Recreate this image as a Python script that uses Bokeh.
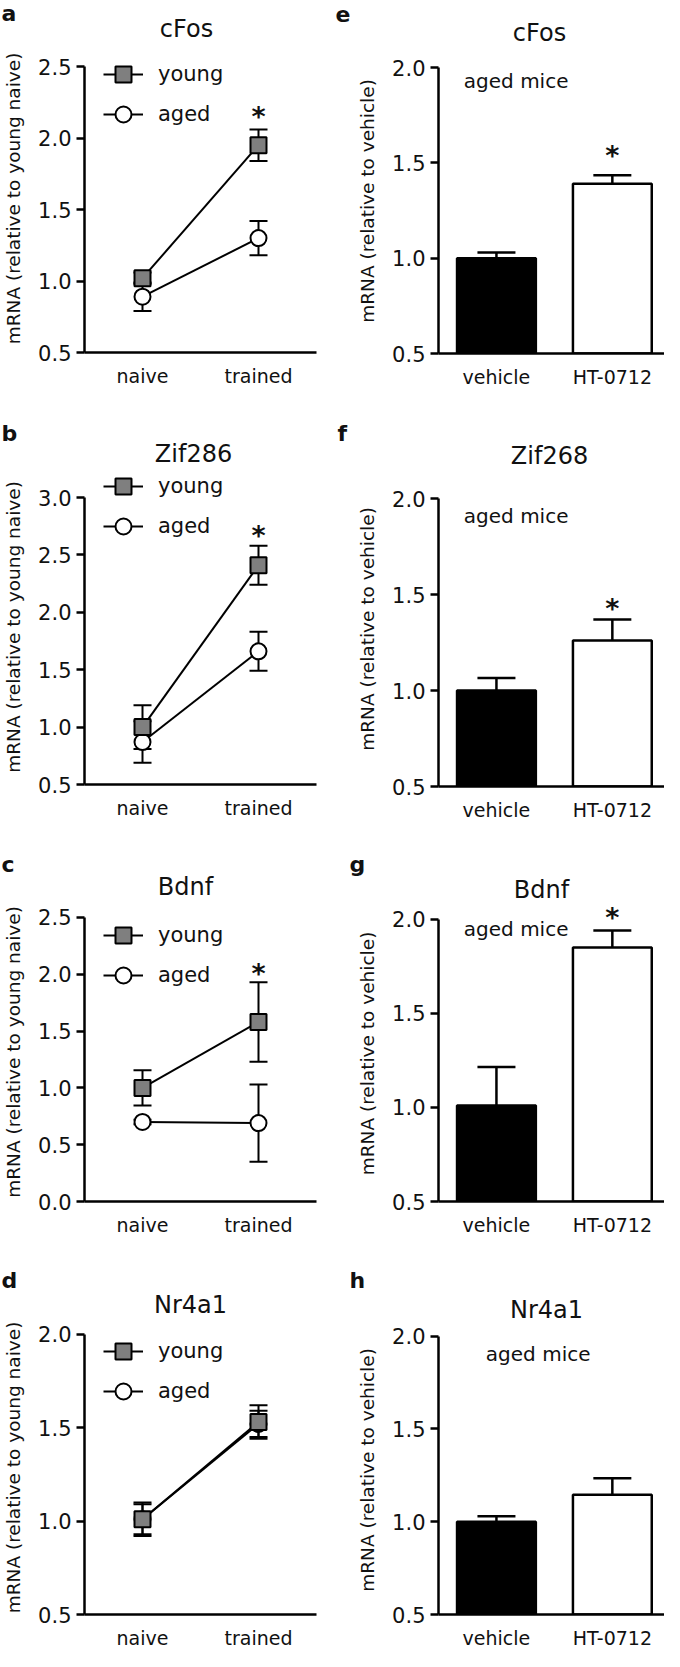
from bokeh.plotting import figure
from bokeh.models import (ColumnDataSource, Whisker, TeeHead, FixedTicker, Range1d,
                          Legend, LegendItem, PrintfTickFormatter)
from bokeh.layouts import column, row
from bokeh.embed import file_html
from bokeh.resources import INLINE
from bokeh.core.properties import value

# ---------------- data ----------------
conditions = ["naive", "trained"]
treatments = ["vehicle", "HT-0712"]
genes_left = ["cFos", "Zif286", "Bdnf", "Nr4a1"]
genes_right = ["cFos", "Zif268", "Bdnf", "Nr4a1"]
letters_left = ["a", "b", "c", "d"]
letters_right = ["e", "f", "g", "h"]

young_mean = [[1.02, 1.95], [1.00, 2.41], [1.00, 1.58], [1.01, 1.53]]
young_sem = [[0.04, 0.11], [0.19, 0.17], [0.155, 0.35], [0.09, 0.09]]
aged_mean = [[0.89, 1.30], [0.87, 1.66], [0.70, 0.69], [1.01, 1.52]]
aged_sem = [[0.10, 0.12], [0.18, 0.17], [0.02, 0.34], [0.08, 0.07]]
left_star = [2.19, 2.72, 2.06, None]
left_yticks = [[0.5, 1.0, 1.5, 2.0, 2.5],
               [0.5, 1.0, 1.5, 2.0, 2.5, 3.0],
               [0.0, 0.5, 1.0, 1.5, 2.0, 2.5],
               [0.5, 1.0, 1.5, 2.0]]

bar_mean = [[1.00, 1.39], [1.00, 1.26], [1.01, 1.85], [1.00, 1.145]]
bar_sem = [[0.03, 0.045], [0.065, 0.11], [0.205, 0.09], [0.03, 0.09]]
right_star = [1.57, 1.46, 2.04, None]
right_yticks = [0.5, 1.0, 1.5, 2.0]

# ---------------- layout / style ----------------
FONT = "DejaVu Sans"
W = 332
ROW_H = [416, 416, 406, 413]
# (frame top, top-tick y, frame bottom) in pixels from the top of the row
L_GEOM = [(44, 66, 352), (53, 81, 368), (70, 85, 370), (82, 96, 382)]
R_GEOM = [(48, 67, 353), (55, 82, 370), (73, 87, 373), (87, 98, 384)]
HEAD_GAP = 2
L_BORDER = (82, 16)
R_BORDER = (106, 0)
L_TITLE = [(186, 28), (193, 37), (185, 54), (190, 66)]
R_TITLE = [(207, 32), (217, 39), (209, 57), (214, 71)]
L_LETTER = [(1, 13), (1, 17), (1, 32), (1, 42)]
R_LETTER = [(3, 13), (5, 17), (17, 32), (17, 42)]
LEGEND_C1 = [81, 77, 111, 126]
AGED_MICE_POS = [(1.17, 1.93), (1.17, 1.91), (1.17, 1.95), (1.36, 1.905)]
SQ_FILL = "#7f7f7f"
LEG_GLYPH = 40
LEG_PITCH = 33


def header_fig(hh, title_pos, letter_pos, title, letter):
    h = figure(width=W, height=hh, x_range=Range1d(0, W), y_range=Range1d(hh, 0),
               x_axis_type=None, y_axis_type=None, output_backend="svg",
               toolbar_location=None, min_border=0, min_border_left=0,
               min_border_right=0, min_border_top=0, min_border_bottom=0,
               frame_align=False)
    h.outline_line_color = None
    h.xgrid.visible = False
    h.ygrid.visible = False
    h.text(x=[title_pos[0]], y=[title_pos[1]], text=[title], text_align="center",
           text_baseline="middle", text_font=value(FONT), text_font_size="24px",
           text_color="#111111")
    h.text(x=[letter_pos[0]], y=[letter_pos[1]], text=[letter], text_align="left",
           text_baseline="middle", text_font=value(FONT), text_font_size="22px",
           text_font_style="bold", text_color="#111111")
    return h


def base_fig(H, geom, border, yticks, xr, ylabel, xlabels):
    F, T, B = geom
    y0, y1 = yticks[0], yticks[-1]
    yend = y1 + (T - F) * (y1 - y0) / (B - T)
    hh = F - HEAD_GAP
    p = figure(width=W, height=H - hh, x_range=Range1d(*xr), y_range=Range1d(y0, yend),
               output_backend="svg", toolbar_location=None, frame_align=False,
               min_border_left=border[0], min_border_right=border[1],
               min_border_top=HEAD_GAP, min_border_bottom=H - B)
    p.xgrid.visible = False
    p.ygrid.visible = False
    p.outline_line_color = None
    yax = p.yaxis[0]
    yax.ticker = FixedTicker(ticks=yticks)
    yax.bounds = (y0, y1)
    yax.formatter = PrintfTickFormatter(format="%.1f")
    yax.minor_tick_line_color = None
    yax.major_tick_out = 8
    yax.major_tick_in = 0
    yax.major_tick_line_width = 2.5
    yax.axis_line_width = 2.5
    yax.major_label_text_font = FONT
    yax.major_label_text_font_size = "21px"
    yax.major_label_text_color = "#111111"
    yax.major_label_standoff = 5
    yax.axis_label = ylabel
    yax.axis_label_text_font = FONT
    yax.axis_label_text_font_size = "18.5px"
    yax.axis_label_text_font_style = "normal"
    yax.axis_label_text_color = "#111111"
    yax.axis_label_standoff = 11
    xax = p.xaxis[0]
    xax.ticker = FixedTicker(ticks=[1, 2])
    xax.major_label_overrides = {1: xlabels[0], 2: xlabels[1]}
    xax.minor_tick_line_color = None
    xax.major_tick_out = 0
    xax.major_tick_in = 0
    xax.axis_line_width = 2.5
    xax.major_label_text_font = FONT
    xax.major_label_text_font_size = "19px"
    xax.major_label_text_color = "#111111"
    xax.major_label_standoff = 12
    return p, hh


def star(p, x, y):
    if y is None:
        return
    p.text(x=[x], y=[y], text=["*"], text_align="center", text_baseline="middle",
           y_offset=6, text_font=value(FONT), text_font_size="27px",
           text_font_style="bold", text_color="#111111")


def left_panel(i):
    H = ROW_H[i]
    geom = L_GEOM[i]
    p, hh = base_fig(H, geom, L_BORDER, left_yticks[i], (0.5, 2.5),
                     "mRNA (relative to young naive)", conditions)
    x = [1, 2]
    ys = ColumnDataSource(dict(x=x, y=young_mean[i],
                               lo=[m - e for m, e in zip(young_mean[i], young_sem[i])],
                               hi=[m + e for m, e in zip(young_mean[i], young_sem[i])]))
    as_ = ColumnDataSource(dict(x=x, y=aged_mean[i],
                                lo=[m - e for m, e in zip(aged_mean[i], aged_sem[i])],
                                hi=[m + e for m, e in zip(aged_mean[i], aged_sem[i])]))
    yl = p.line("x", "y", source=ys, line_color="black", line_width=2)
    al = p.line("x", "y", source=as_, line_color="black", line_width=2)
    for src in (ys, as_):
        w = Whisker(source=src, base="x", lower="lo", upper="hi", line_width=2,
                    line_color="black", level="underlay",
                    upper_head=TeeHead(size=18, line_width=2, line_color="black"),
                    lower_head=TeeHead(size=18, line_width=2, line_color="black"))
        p.add_layout(w)
    ac = p.scatter("x", "y", source=as_, marker="circle", size=16, fill_color="white",
                   line_color="black", line_width=2)
    yq = p.scatter("x", "y", source=ys, marker="square", size=16, fill_color=SQ_FILL,
                   line_color="black", line_width=2)
    F, T, B = geom
    c1 = LEGEND_C1[i]
    leg_h = 2 * LEG_GLYPH + (LEG_PITCH - LEG_GLYPH)
    leg = Legend(items=[LegendItem(label="young", renderers=[yl, yq]),
                        LegendItem(label="aged", renderers=[al, ac])],
                 location=(19, B - (c1 - LEG_GLYPH // 2 + leg_h)),
                 glyph_width=LEG_GLYPH, glyph_height=LEG_GLYPH,
                 label_height=LEG_GLYPH, spacing=LEG_PITCH - LEG_GLYPH, padding=0, margin=0,
                 label_standoff=15, border_line_color=None, background_fill_alpha=0,
                 label_text_font=FONT, label_text_font_size="21px",
                 label_text_color="#111111")
    p.add_layout(leg)
    star(p, 2, left_star[i])
    h = header_fig(hh, L_TITLE[i], L_LETTER[i], genes_left[i], letters_left[i])
    return column(h, p)


def right_panel(i):
    H = ROW_H[i]
    geom = R_GEOM[i]
    p, hh = base_fig(H, geom, R_BORDER, right_yticks, (0.5, 2.45),
                     "mRNA (relative to vehicle)", treatments)
    x = [1, 2]
    src = ColumnDataSource(dict(x=x, y=bar_mean[i],
                                hi=[m + e for m, e in zip(bar_mean[i], bar_sem[i])],
                                fill=["black", "white"]))
    p.add_layout(Whisker(source=src, base="x", lower="y", upper="hi", line_width=2.5,
                         line_color="black", level="underlay",
                         upper_head=TeeHead(size=38, line_width=2.5, line_color="black"),
                         lower_head=None))
    p.vbar(x="x", top="y", bottom=right_yticks[0], width=0.68, source=src,
           fill_color="fill", line_color="black", line_width=2.5)
    ax, ay = AGED_MICE_POS[i]
    p.text(x=[ax], y=[ay], text=["aged mice"], text_align="center",
           text_baseline="middle", text_font=value(FONT), text_font_size="20px",
           text_color="#111111")
    star(p, 2, right_star[i])
    h = header_fig(hh, R_TITLE[i], R_LETTER[i], genes_right[i], letters_right[i])
    return column(h, p)


rows = [row(left_panel(i), right_panel(i)) for i in range(4)]
layout = column(*rows)
open("out.html", "w").write(file_html(layout, INLINE))
